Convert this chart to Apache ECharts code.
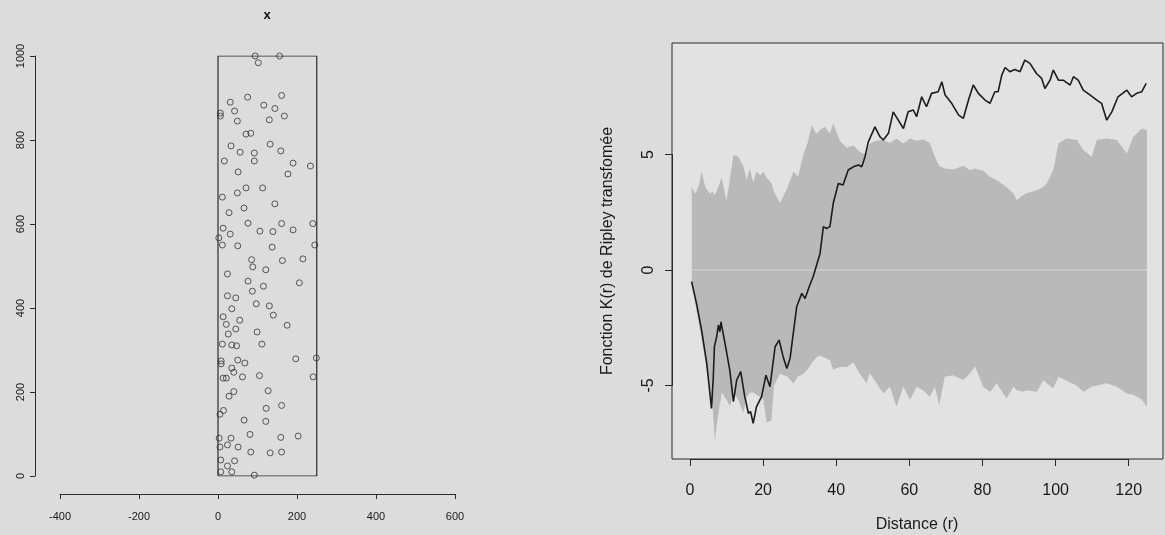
<!DOCTYPE html>
<html>
<head>
<meta charset="utf-8">
<title>Semis de points et fonction K de Ripley</title>
<script src="https://cdn.jsdelivr.net/npm/echarts@6/dist/echarts.min.js"></script>
<style>
html, body { margin: 0; padding: 0; background: #dcdcdc; }
#main { width: 1165px; height: 535px; }
</style>
</head>
<body>
<div id="main"></div>
<script>
// semis de points (gauche)
var ptX = [94,156,102,31,75,161,116,144,6,6,42,49,130,168,71,83,33,132,56,92,159,16,92,190,234,51,177,71,113,49,
	11,144,66,28,76,161,240,13,106,139,190,31,2,11,50,137,245,85,88,163,215,121,24,76,115,206,87,24,45,97,
	130,35,140,13,55,21,175,45,26,99,11,35,47,111,8,8,50,68,197,249,35,40,13,21,62,105,241,127,40,28,
	122,161,14,5,66,121,81,3,33,159,203,5,24,51,83,132,161,7,42,24,7,35,92];
var ptY = [1000,1000,984,890,902,906,883,875,864,857,869,845,848,857,814,816,786,790,771,769,774,750,750,745,738,724,719,686,686,674,
	664,648,638,627,602,601,601,590,583,582,586,576,567,550,548,545,550,515,498,513,517,491,481,464,452,460,440,429,424,410,
	405,398,383,379,371,361,359,350,338,343,314,312,310,314,274,267,276,269,279,281,257,247,233,233,236,239,236,203,201,190,
	161,168,156,147,133,130,99,90,90,92,95,69,74,69,57,55,57,38,36,24,10,10,2];
// fenêtre d'étude
var winX = [0, 250, 250, 0, 0];
var winY = [0, 0, 1000, 1000, 0];

// enveloppe (droite)
var envR = [0.5,1.5,2.5,3.2,4.2,5.5,6.2,6.8,7.5,8.7,10.0,11.0,11.9,13.2,14.6,15.5,16.4,17.3,18.2,19.2,
	20.1,21.0,22.3,23.0,24.6,26.5,28.3,29.6,31.0,32.2,33.3,34.5,35.6,36.9,38.3,39.2,41.0,42.9,44.7,46.5,
	48.3,49.2,51.1,52.9,54.7,56.5,58.4,60.2,62.0,63.8,65.6,67.0,68.2,69.7,72.0,74.8,76.6,78.0,80.2,82.1,
	83.9,86.6,88.5,89.4,91.2,92.1,94.9,96.7,97.6,99.4,100.8,103.1,105.8,107.6,109.9,111.3,114.0,116.8,119.5,121.3,
	123.6,125.0];
var envHi = [3.6,3.3,3.7,4.26,3.6,3.3,3.4,3.25,3.5,3.98,3.0,4.0,4.98,4.9,4.5,3.9,4.4,3.8,4.26,4.1,
	4.26,4.0,3.76,3.4,2.9,3.5,4.26,4.05,4.98,5.5,6.28,5.9,6.06,6.2,5.9,6.35,5.6,5.3,5.4,5.1,
	5.0,5.48,5.6,5.63,5.5,5.7,5.48,5.7,5.6,5.65,5.5,4.9,4.5,4.4,4.35,4.5,4.33,4.4,4.3,4.04,
	3.9,3.6,3.3,3.03,3.25,3.32,3.46,3.6,3.75,4.33,5.48,5.7,5.63,5.2,4.9,5.63,5.7,5.63,5.05,5.77,
	6.13,6.06];
var envLo = [-0.6,-1.5,-2.4,-3.0,-3.9,-5.05,-5.9,-7.4,-6.5,-5.3,-5.6,-5.9,-5.3,-5.6,-6.2,-5.5,-5.3,-5.3,-5.4,-5.5,
	-5.6,-6.6,-6.5,-5.0,-4.5,-4.6,-4.9,-4.6,-4.5,-4.3,-4.04,-3.8,-3.7,-3.8,-3.9,-4.3,-4.2,-4.2,-4.0,-4.5,
	-4.9,-4.47,-4.9,-5.34,-5.05,-5.92,-5.05,-5.63,-5.05,-5.2,-5.48,-5.05,-5.84,-4.62,-4.55,-4.76,-4.47,-4.18,-5.05,-5.27,
	-4.9,-5.56,-5.05,-5.2,-5.27,-5.2,-5.27,-4.76,-4.9,-5.12,-4.62,-4.8,-5.0,-5.27,-5.05,-5.0,-4.9,-5.05,-5.34,-5.4,
	-5.6,-5.92];
// courbe observée
var obsR = [0.46,1.8,3.2,4.6,5.9,6.4,6.7,7.3,7.8,8.2,8.5,9.6,10.9,11.9,12.8,13.9,15.0,16.0,16.6,17.3,
	18.2,19.6,20.8,21.9,23.3,24.4,25.5,26.5,27.4,29.2,30.6,31.5,32.8,33.7,35.6,36.5,37.4,38.3,39.2,40.6,
	41.9,43.3,44.7,46.1,47.0,47.9,48.8,50.6,52.0,52.9,54.3,55.6,58.4,59.7,61.1,62.0,63.4,64.7,66.1,67.9,
	68.9,69.8,71.6,73.5,74.8,76.2,77.5,78.9,80.7,82.1,83.4,84.3,85.3,86.2,87.5,88.9,90.3,91.6,93.0,94.8,
	96.2,97.1,98.5,99.4,100.8,102.1,104.0,104.9,106.2,107.6,109.4,111.3,112.6,114.0,115.4,117.1,119.5,120.8,122.2,123.6,
	124.8];
var obsK = [-0.5,-1.44,-2.6,-4.04,-5.99,-4.62,-3.32,-2.89,-2.38,-2.67,-2.24,-3.17,-4.33,-5.7,-4.76,-4.4,-5.48,-6.2,-6.13,-6.64,
	-5.92,-5.48,-4.55,-5.05,-3.32,-3.03,-3.75,-4.26,-3.82,-1.59,-1.01,-1.23,-0.65,-0.29,0.72,1.88,1.8,1.88,2.89,3.75,
	3.68,4.33,4.47,4.55,4.47,4.91,5.55,6.2,5.77,5.63,5.92,6.85,6.13,6.85,6.93,6.64,7.5,7.07,7.65,7.72,
	8.15,7.58,7.22,6.71,6.57,7.36,8.01,7.65,7.36,7.22,7.72,7.72,8.44,8.77,8.59,8.68,8.59,9.09,8.95,8.51,
	8.3,7.86,8.22,8.66,8.22,8.22,8.01,8.37,8.22,7.79,7.58,7.36,7.22,6.49,6.85,7.5,7.79,7.5,7.65,7.72,
	8.08];
// valeur théorique
var theoR = [0.5, 125];
var theoK = [0, 0];

window.onload = function(){
	var myChart = echarts.init(document.getElementById('main'));
	var ff = '"Liberation Sans", Arial, sans-serif';
	var ink = '#2a2a2a';

	function pairs(a, b){
		var res = [];
		for (var i = 0; i < a.length; i++) res.push([a[i], b[i]]);
		return res;
	}

	// axe façon R : ticks vers l'extérieur, pas de grille
	function rAxis(o, tickLen, fs, margin){
		o.type = 'value';
		o.splitLine = {show: false};
		o.axisLine = {show: true, onZero: false, lineStyle: {color: ink, width: 1}};
		o.axisTick = {show: true, inside: false, length: tickLen, lineStyle: {color: ink, width: 1}};
		o.axisLabel = {fontSize: fs, fontFamily: ff, color: '#1a1a1a', margin: margin, rotate: o.rotate || 0,
			showMinLabel: true, showMaxLabel: true,
			formatter: function(v){ return String(v); }};
		delete o.rotate;
		return o;
	}

	var option = {
		backgroundColor: '#dcdcdc',
		animation: false,
		grid: [
			{left: 60, top: 56, width: 395, height: 420},
			{left: 672, top: 43, width: 491, height: 416, show: true, backgroundColor: '#e2e2e2',
				borderColor: ink, borderWidth: 1},
			{left: 690, top: 154.5, width: 438.7, height: 231}
		],
		xAxis: [
			rAxis({gridIndex: 0, min: -400, max: 600, interval: 200, offset: 18}, 5, 11, 17),
			{gridIndex: 1, type: 'value', min: -4.9, max: 129.4, show: false},
			rAxis({gridIndex: 2, min: 0, max: 120, interval: 20, offset: 73.5}, 7, 16, 24)
		],
		yAxis: [
			rAxis({gridIndex: 0, min: 0, max: 1000, interval: 200, offset: 25, rotate: 90}, 5, 11, 9),
			{gridIndex: 1, type: 'value', min: -8.18, max: 9.83, show: false},
			rAxis({gridIndex: 2, min: -5, max: 5, interval: 5, offset: 18, rotate: 90}, 7, 16, 15)
		],
		graphic: [
			{type: 'text', x: 267, y: 15, style: {text: 'x', font: 'bold 13px ' + ff, fill: '#111',
				textAlign: 'center', textVerticalAlign: 'middle', align: 'center', verticalAlign: 'middle'}},
			{type: 'text', x: 608, y: 251, rotation: Math.PI / 2,
				style: {text: 'Fonction K(r) de Ripley transfomée', font: '16px ' + ff, fill: '#1a1a1a',
				textAlign: 'center', textVerticalAlign: 'middle', align: 'center', verticalAlign: 'middle'}},
			{type: 'text', x: 917, y: 525,
				style: {text: 'Distance (r)', font: '16px ' + ff, fill: '#1a1a1a',
				textAlign: 'center', textVerticalAlign: 'middle', align: 'center', verticalAlign: 'middle'}}
		],
		series: [
			{
				// fenêtre rectangulaire
				type: 'line', xAxisIndex: 0, yAxisIndex: 0,
				data: pairs(winX, winY),
				showSymbol: false, silent: true,
				lineStyle: {color: ink, width: 1.2}
			},
			{
				type: 'scatter', xAxisIndex: 0, yAxisIndex: 0,
				data: pairs(ptX, ptY),
				symbol: 'circle', symbolSize: 6, silent: true,
				itemStyle: {color: 'rgba(0,0,0,0)', borderColor: '#333', borderWidth: 1}
			},
			{
				// enveloppe de confiance
				type: 'custom', xAxisIndex: 1, yAxisIndex: 1,
				data: envR.map(function(r, i){ return [r, envLo[i], envHi[i]]; }),
				encode: {x: 0, y: [1, 2]},
				silent: true, z: 1,
				renderItem: function(params, api){
					if (params.dataIndex !== 0) return null;
					var pts = [];
					for (var i = 0; i < envR.length; i++) pts.push(api.coord([envR[i], envHi[i]]));
					for (var j = envR.length - 1; j >= 0; j--) pts.push(api.coord([envR[j], envLo[j]]));
					return {type: 'polygon', shape: {points: pts}, style: {fill: '#b9b9b9'}};
				}
			},
			{
				type: 'line', xAxisIndex: 1, yAxisIndex: 1,
				data: pairs(theoR, theoK),
				showSymbol: false, silent: true, z: 2,
				lineStyle: {color: '#d6d6d6', width: 1}
			},
			{
				type: 'line', xAxisIndex: 1, yAxisIndex: 1,
				data: pairs(obsR, obsK),
				showSymbol: false, silent: true, z: 3,
				lineStyle: {color: '#1c1c1c', width: 1.6}
			}
		]
	};
	myChart.setOption(option);
};
</script>
</body>
</html>
